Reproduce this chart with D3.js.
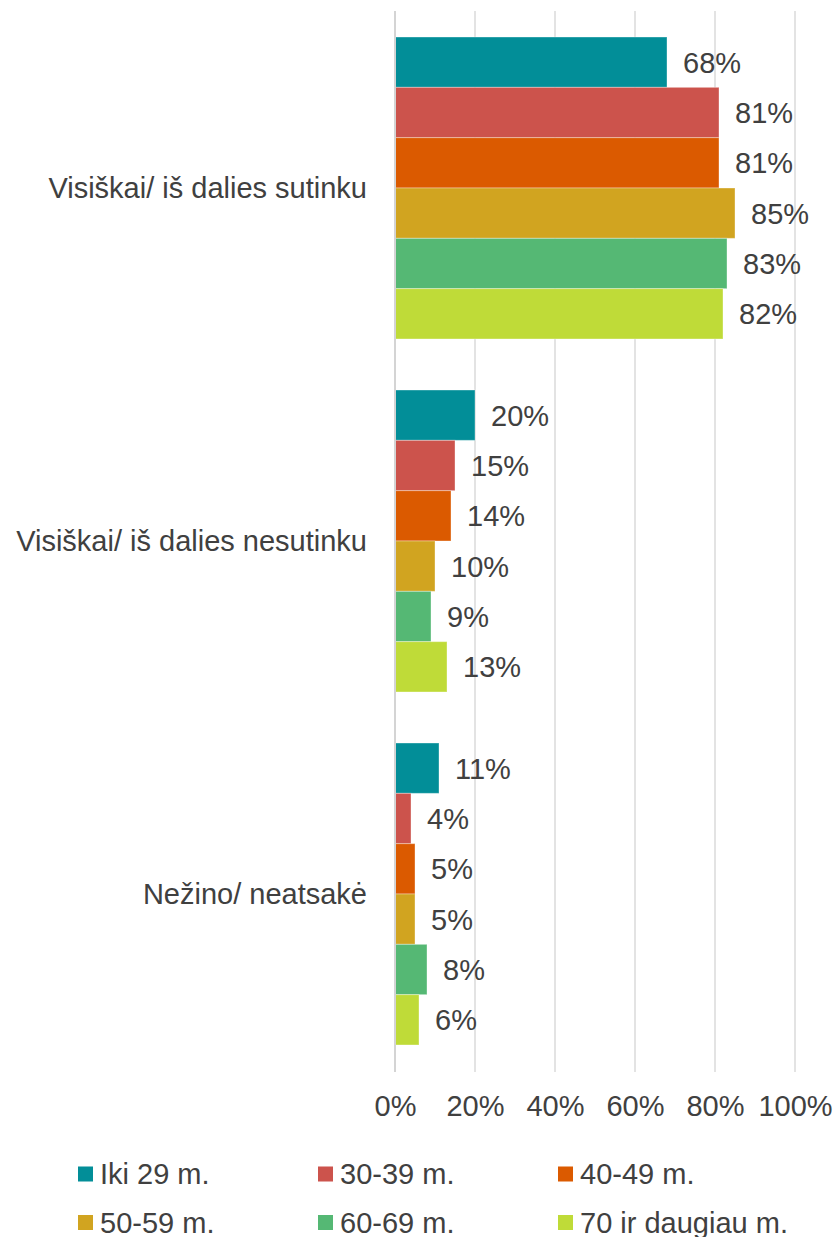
<!DOCTYPE html>
<html><head><meta charset="utf-8">
<script src="https://cdn.jsdelivr.net/npm/d3@7"></script>
<style>body{margin:0;background:#fff}svg{display:block;font-family:"Liberation Sans",Arial,sans-serif}</style>
</head><body><svg id="c" width="836" height="1237"></svg>
<script>
const categories = ["Visiškai/ iš dalies sutinku", "Visiškai/ iš dalies nesutinku", "Nežino/ neatsakė"];
const seriesNames = ["Iki 29 m.", "30-39 m.", "40-49 m.", "50-59 m.", "60-69 m.", "70 ir daugiau m."];
const seriesColors = ["#028E98", "#CC534C", "#DB5A00", "#D1A420", "#55B874", "#BFDB38"];
const iki29 = [68, 20, 11];
const m30_39 = [81, 15, 4];
const m40_49 = [81, 14, 5];
const m50_59 = [85, 10, 5];
const m60_69 = [83, 9, 8];
const m70plus = [82, 13, 6];
const tickValues = [0, 20, 40, 60, 80, 100];

const seriesValues = [iki29, m30_39, m40_49, m50_59, m60_69, m70plus];
const svg = d3.select("#c");
const textColor = "#404040";
const fs = 29;

const x = d3.scaleLinear().domain([0, 100]).range([395, 795]);
const y0 = d3.scaleBand().domain(categories).range([11.5, 1070.5]).paddingInner(0.1445).paddingOuter(0.07225);
const y1 = d3.scaleBand().domain(seriesNames).range([0, y0.bandwidth()]);

// gridlines
svg.append("g").selectAll("line").data(tickValues).join("line")
  .attr("x1", d => x(d)).attr("x2", d => x(d))
  .attr("y1", 11).attr("y2", 1072)
  .attr("stroke", "#e3e3e3").attr("stroke-width", 2);

// bars
const groups = svg.append("g").selectAll("g").data(categories).join("g")
  .attr("transform", c => `translate(0,${y0(c)})`);
groups.each(function(c, ci) {
  const g = d3.select(this);
  const rows = seriesNames.map((s, si) => ({s, si, v: seriesValues[si][ci]}));
  g.selectAll("rect").data(rows).join("rect")
    .attr("x", x(0)).attr("y", d => y1(d.s))
    .attr("width", d => x(d.v) - x(0)).attr("height", y1.bandwidth())
    .attr("fill", d => seriesColors[d.si])
    .attr("stroke", "rgba(255,255,255,0.35)").attr("stroke-width", 1);
  g.selectAll("text").data(rows).join("text")
    .attr("x", d => x(d.v) + 16).attr("y", d => y1(d.s) + y1.bandwidth() / 2 + fs * 0.36)
    .attr("fill", textColor).attr("font-size", fs)
    .text(d => d.v + "%");
});

// zero axis line
svg.append("line").attr("x1", x(0)).attr("x2", x(0)).attr("y1", 11).attr("y2", 1072)
  .attr("stroke", "#d4d4d4").attr("stroke-width", 2);

// category labels
svg.append("g").selectAll("text").data(categories).join("text")
  .attr("x", 367).attr("y", c => y0(c) + y0.bandwidth() / 2 + fs * 0.36)
  .attr("text-anchor", "end").attr("fill", textColor).attr("font-size", fs)
  .text(c => c);

// x axis
const xAxis = d3.axisBottom(x).tickValues(tickValues).tickSize(0).tickFormat(d => d + "%");
const ax = svg.append("g").attr("transform", "translate(0,1072)").call(xAxis);
ax.select(".domain").remove();
ax.selectAll("text").attr("font-size", fs).attr("fill", textColor)
  .attr("font-family", '"Liberation Sans",Arial,sans-serif').attr("dy", 0).attr("y", 44);

// legend
const legend = svg.append("g").selectAll("g").data(seriesNames).join("g")
  .attr("transform", (s, i) => `translate(${78 + (i % 3) * 240},${1174 + Math.floor(i / 3) * 48.5})`);
legend.append("rect").attr("x", 0).attr("y", -7.5).attr("width", 15).attr("height", 15)
  .attr("fill", (s, i) => seriesColors[i]);
legend.append("text").attr("x", 22).attr("y", 10).attr("font-size", fs).attr("fill", textColor)
  .text(s => s);
</script></body></html>
